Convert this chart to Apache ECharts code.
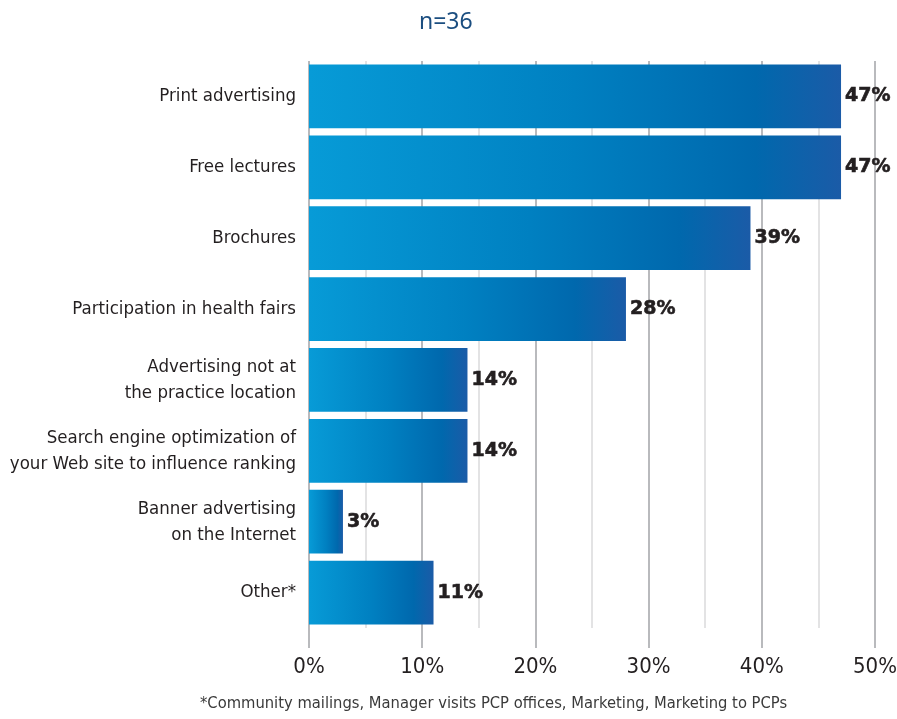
<!DOCTYPE html>
<html>
<head>
<meta charset="utf-8">
<title>Marketing methods</title>
<script src="https://cdn.jsdelivr.net/npm/echarts@6/dist/echarts.min.js"></script>
<style>
  html, body { margin: 0; padding: 0; background: #ffffff; }
  #chart { width: 897px; height: 719px; }
</style>
</head>
<body>
<div id="chart"></div>
<script>
// Marketing methods used, share of respondents
const categories = [
  'Print advertising',
  'Free lectures',
  'Brochures',
  'Participation in health fairs',
  'Advertising not at\nthe practice location',
  'Search engine optimization of\nyour Web site to influence ranking',
  'Banner advertising\non the Internet',
  'Other*'
];
const values = [47, 47, 39, 28, 14, 14, 3, 11];
const axisTicks = [0, 10, 20, 30, 40, 50];
const titleText = 'n=36';
const footnoteText = '*Community mailings, Manager visits PCP offices, Marketing, Marketing to PCPs';

const narrowFont = "'Liberation Sans Narrow', 'DejaVu Sans Condensed', 'Roboto Condensed', 'Liberation Sans', sans-serif";
const majorGrid = '#b9babd';
const minorGrid = '#dadadc';

const barGradient = new echarts.graphic.LinearGradient(0, 0, 1, 0, [
  { offset: 0, color: '#079bd7' },
  { offset: 0.5, color: '#0080c1' },
  { offset: 0.84, color: '#0068ad' },
  { offset: 1, color: '#1b5ba7' }
]);

const chart = echarts.init(document.getElementById('chart'), null, { renderer: 'canvas' });

chart.setOption({
  animation: false,
  title: {
    text: titleText,
    left: 414,
    top: 6,
    textStyle: { fontSize: 23, fontWeight: 'normal', color: '#1b4e80', fontFamily: "'Noto Sans', sans-serif" }
  },
  grid: { left: 309, right: 22, top: 61, bottom: 91, containLabel: false, outerBoundsMode: 'none' },
  xAxis: {
    type: 'value',
    min: axisTicks[0],
    max: axisTicks[axisTicks.length - 1],
    interval: axisTicks[1] - axisTicks[0],
    axisLine: { show: false },
    axisTick: { show: true, length: 20, lineStyle: { color: majorGrid, width: 2 } },
    axisLabel: {
      margin: 28,
      fontSize: 22,
      color: '#231f20',
      fontFamily: narrowFont,
      formatter: '{value}%'
    },
    splitLine: { show: true, lineStyle: { color: majorGrid, width: 2 } },
    minorTick: { show: true, splitNumber: 2, length: 0, lineStyle: { opacity: 0 } },
    minorSplitLine: { show: true, lineStyle: { color: minorGrid, width: 1.5 } }
  },
  yAxis: {
    type: 'category',
    inverse: true,
    data: categories,
    axisLine: { show: false },
    axisTick: { show: false },
    axisLabel: {
      margin: 13,
      fontSize: 18.5,
      lineHeight: 26,
      color: '#231f20',
      fontFamily: narrowFont,
      align: 'right'
    }
  },
  series: [{
    type: 'bar',
    data: values,
    barCategoryGap: '10%',
    itemStyle: { color: barGradient },
    label: {
      show: true,
      position: 'right',
      distance: 4,
      formatter: '{c}%',
      fontSize: 19,
      fontWeight: 'bold',
      fontFamily: "'DejaVu Sans', sans-serif",
      color: '#231f20',
      textBorderColor: '#231f20',
      textBorderWidth: 0.6
    }
  }],
  graphic: [{
    type: 'text',
    left: 200,
    top: 696,
    style: {
      text: footnoteText,
      fontSize: 16.4,
      fill: '#3a3a3a',
      fontFamily: narrowFont
    }
  }]
});
</script>
</body>
</html>
